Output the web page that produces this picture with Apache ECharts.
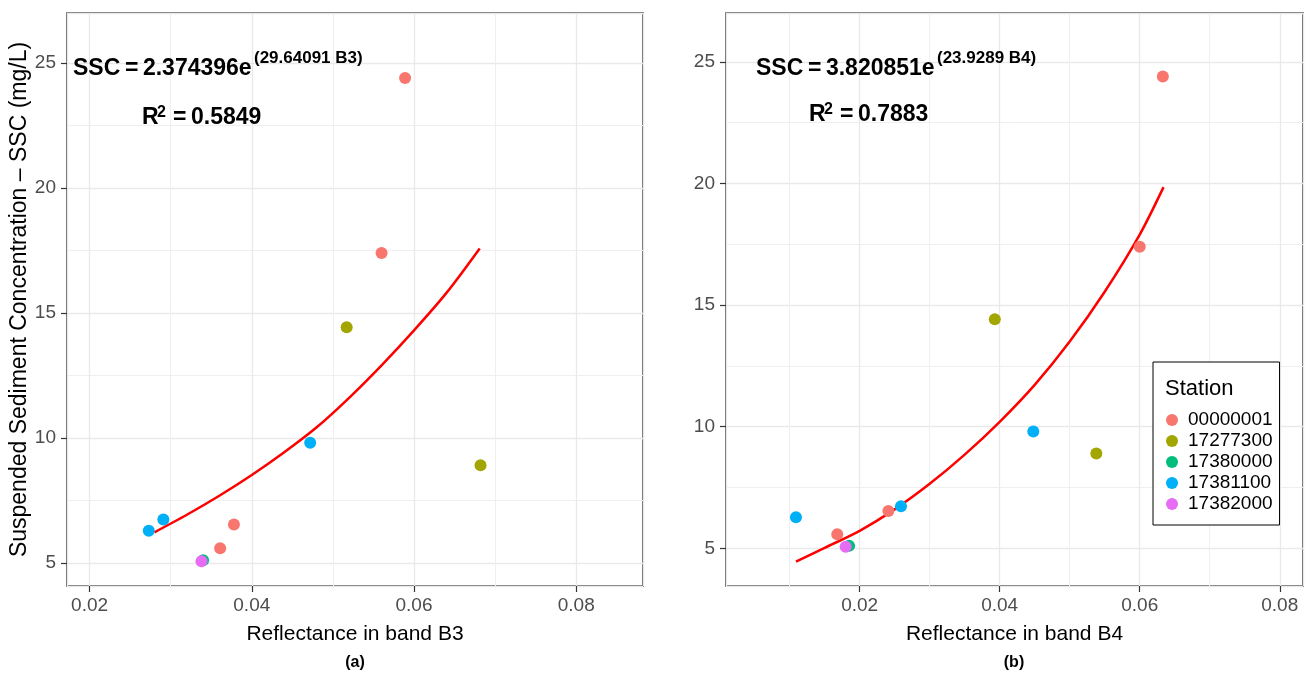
<!DOCTYPE html>
<html>
<head>
<meta charset="utf-8">
<script src="https://cdn.jsdelivr.net/npm/echarts@6/dist/echarts.min.js"></script>
<style>
  html, body { margin: 0; padding: 0; background: #fff; }
  #chart { width: 1307px; height: 679px; }
</style>
</head>
<body>
<div id="chart"></div>
<script>
// ---- data ----
const stations = ['00000001', '17277300', '17380000', '17381100', '17382000'];
const stationColors = ['#F8766D', '#A3A500', '#00BF7D', '#00B0F6', '#E76BF3'];

const ssc00000001 = [24.4, 17.4, 6.53, 5.58];
const b3_00000001 = [0.0589, 0.0560, 0.0378, 0.0361];
const b4_00000001 = [0.0633, 0.0600, 0.0241, 0.0168];

const ssc17277300 = [14.42, 8.9];
const b3_17277300 = [0.0517, 0.0682];
const b4_17277300 = [0.0393, 0.0538];

const ssc17380000 = [5.1];
const b3_17380000 = [0.0340];
const b4_17380000 = [0.0185];

const ssc17381100 = [9.8, 6.28, 6.73];
const b3_17381100 = [0.0472, 0.0273, 0.0291];
const b4_17381100 = [0.0448, 0.0109, 0.0259];

const ssc17382000 = [5.06];
const b3_17382000 = [0.0338];
const b4_17382000 = [0.0180];

// fitted curves as drawn in the picture
const fitB3X = [0.0280, 0.0320, 0.0360, 0.0400, 0.0440, 0.0480, 0.0520, 0.0560, 0.0600, 0.0640, 0.0681];
const fitB3Y = [6.22, 6.92, 7.68, 8.51, 9.42, 10.42, 11.60, 12.90, 14.30, 15.80, 17.58];
const fitB4X = [0.0109, 0.0150, 0.0200, 0.0250, 0.0300, 0.0350, 0.0400, 0.0450, 0.0500, 0.0550, 0.0600, 0.0634];
const fitB4Y = [4.45, 5.02, 5.72, 6.60, 7.65, 8.85, 10.20, 11.72, 13.50, 15.55, 17.90, 19.85];

const xTickLabels = ['0.02', '0.04', '0.06', '0.08'];
const yTickLabels = ['5', '10', '15', '20', '25'];

// ---- assemble ----
const sscList = [ssc00000001, ssc17277300, ssc17380000, ssc17381100, ssc17382000];
const b3List = [b3_00000001, b3_17277300, b3_17380000, b3_17381100, b3_17382000];
const b4List = [b4_00000001, b4_17277300, b4_17380000, b4_17381100, b4_17382000];

const FONT = '"Liberation Sans", Arial, sans-serif';

function pairs(xs, ys) { return xs.map((x, i) => [x, ys[i]]); }

function xAxisCfg(gridIndex, min, max, name) {
  return {
    type: 'value', gridIndex, min, max, splitNumber: 4,
    name, nameLocation: 'middle', nameGap: 38,
    nameTextStyle: { fontFamily: FONT, fontSize: 21, color: '#000' },
    axisLine: { show: false, onZero: false },
    axisTick: { show: true, length: 6, inside: false, lineStyle: { color: '#333', width: 1.2 } },
    axisLabel: {
      show: true, margin: 10, fontFamily: FONT, fontSize: 19, color: '#4d4d4d',
      showMinLabel: false, showMaxLabel: false,
      formatter: v => { const s = v.toFixed(2); return xTickLabels.includes(s) ? s : ''; }
    },
    splitLine: { show: true, lineStyle: { color: '#e9e9e9', width: 1.3 } },
    minorTick: { show: false, splitNumber: 2 },
    minorSplitLine: { show: true, lineStyle: { color: '#efefef', width: 1 } }
  };
}
function yAxisCfg(gridIndex, min, max, name) {
  return {
    type: 'value', gridIndex, min, max, splitNumber: 5,
    name: name || '', nameLocation: 'middle', nameGap: 35,
    nameTextStyle: { fontFamily: FONT, fontSize: 23, color: '#000' },
    axisLine: { show: false, onZero: false },
    axisTick: { show: true, length: 6, inside: false, lineStyle: { color: '#333', width: 1.2 } },
    axisLabel: {
      show: true, margin: 11, fontFamily: FONT, fontSize: 19, color: '#4d4d4d',
      showMinLabel: false, showMaxLabel: false,
      formatter: v => { const s = String(Math.round(v * 1000) / 1000); return yTickLabels.includes(s) ? s : ''; }
    },
    splitLine: { show: true, lineStyle: { color: '#e9e9e9', width: 1.3 } },
    minorTick: { show: false, splitNumber: 2 },
    minorSplitLine: { show: true, lineStyle: { color: '#efefef', width: 1 } }
  };
}

const series = [];
series.push({
  type: 'line', name: 'fitB3', xAxisIndex: 0, yAxisIndex: 0,
  data: pairs(fitB3X, fitB3Y), smooth: 0.3, showSymbol: false, symbol: 'none',
  lineStyle: { color: '#FF0000', width: 2.5 }, z: 2, silent: true
});
series.push({
  type: 'line', name: 'fitB4', xAxisIndex: 1, yAxisIndex: 1,
  data: pairs(fitB4X, fitB4Y), smooth: 0.3, showSymbol: false, symbol: 'none',
  lineStyle: { color: '#FF0000', width: 2.5 }, z: 2, silent: true
});
stations.forEach((st, i) => {
  series.push({
    type: 'scatter', name: st, xAxisIndex: 0, yAxisIndex: 0,
    data: pairs(b3List[i], sscList[i]), symbol: 'circle', symbolSize: 12,
    itemStyle: { color: stationColors[i], opacity: 1 }, z: 3 + i
  });
  series.push({
    type: 'scatter', name: st, xAxisIndex: 1, yAxisIndex: 1,
    data: pairs(b4List[i], sscList[i]), symbol: 'circle', symbolSize: 12,
    itemStyle: { color: stationColors[i], opacity: 1 }, z: 3 + i
  });
});

function txt(x, y, text, size, bold, align) {
  return {
    type: 'text', x, y, z: 100,
    style: {
      text, fontFamily: FONT, fontSize: size, fontWeight: bold ? 'bold' : 'normal',
      fill: '#000', align: align || 'left', verticalAlign: 'middle'
    }
  };
}

const option = {
  backgroundColor: '#fff',
  animation: false,
  color: stationColors,
  grid: [
    { left: 67, top: 13, width: 576, height: 573, show: true, borderColor: '#3a3a3a', borderWidth: 1.5, backgroundColor: '#fff', containLabel: false },
    { left: 726, top: 13, width: 577, height: 573, show: true, borderColor: '#3a3a3a', borderWidth: 1.5, backgroundColor: '#fff', containLabel: false }
  ],
  xAxis: [
    xAxisCfg(0, 0.01722, 0.08823, 'Reflectance in band B3'),
    xAxisCfg(1, 0.00091, 0.08332, 'Reflectance in band B4')
  ],
  yAxis: [
    yAxisCfg(0, 4.07, 27.0, 'Suspended Sediment Concentration \u2013 SSC (mg/L)'),
    yAxisCfg(1, 3.45, 27.01, '')
  ],
  legend: {
    data: stations, left: 1153, top: 362, orient: 'vertical',
    padding: [48, 7, 11, 13], itemWidth: 12, itemHeight: 12, itemGap: 1,
    icon: 'circle', selectedMode: false,
    borderColor: '#000', borderWidth: 1, borderRadius: 0, backgroundColor: '#fff',
    textStyle: { fontFamily: FONT, fontSize: 19, color: '#000', lineHeight: 20, padding: [0, 0, 0, 5] }
  },
  graphic: [
    txt(73, 69, 'SSC\u2009=\u20092.374396e', 23, true),
    txt(254, 58, '(29.64091 B3)', 17, true),
    txt(142, 118, 'R', 23, true),
    txt(157, 113, '2', 16, true),
    txt(173, 118, '=\u20090.5849', 23, true),

    txt(756, 69, 'SSC\u2009=\u20093.820851e', 23, true),
    txt(937, 58, '(23.9289 B4)', 17, true),
    txt(809, 115, 'R', 23, true),
    txt(824, 110, '2', 16, true),
    txt(840, 115, '=\u20090.7883', 23, true),

    txt(1165, 389, 'Station', 22, false),
    txt(355, 663, '(a)', 16, true, 'center'),
    txt(1014, 663, '(b)', 16, true, 'center')
  ],
  series
};

const chart = echarts.init(document.getElementById('chart'), null, { renderer: 'canvas' });
chart.setOption(option);
</script>
</body>
</html>
